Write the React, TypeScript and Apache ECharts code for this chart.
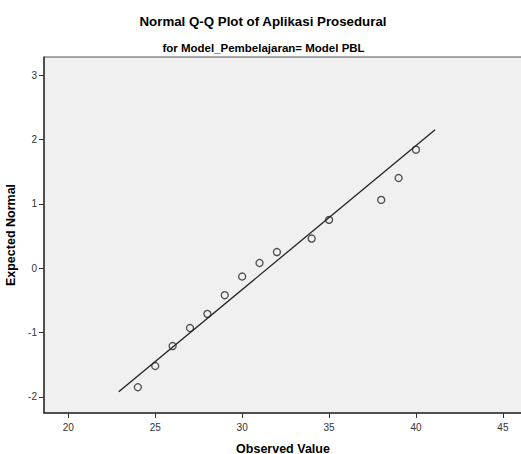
import React, { useEffect, useRef } from "react";
import * as echarts from "echarts";

const observed = [24, 25, 26, 27, 28, 29, 30, 31, 32, 34, 35, 38, 39, 40];
const expectedNormal = [-1.85, -1.52, -1.21, -0.93, -0.71, -0.42, -0.13, 0.08, 0.25, 0.46, 0.75, 1.06, 1.4, 1.84];
const refLineX = [22.9, 41.1];
const refLineY = [-1.92, 2.15];
const xTicks = [20, 25, 30, 35, 40, 45];
const yTicks = [-2, -1, 0, 1, 2, 3];
const titleText = "Normal Q-Q Plot of Aplikasi Prosedural";
const subtitleText = "for Model_Pembelajaran= Model PBL";

const FONT = "'Liberation Sans', Arial, sans-serif";

export default function App() {
  const ref = useRef<HTMLDivElement>(null);
  useEffect(() => {
    if (!ref.current) return;
    const chart = echarts.init(ref.current, undefined, { renderer: "svg" });
    chart.setOption({
      animation: false,
      backgroundColor: "#ffffff",
      graphic: [
        {
          type: "text",
          x: 263,
          y: 21,
          style: {
            text: titleText,
            fontFamily: FONT,
            fontSize: 13.3,
            fontWeight: "bold",
            fill: "#000",
            align: "center",
            verticalAlign: "middle",
          },
        },
        {
          type: "text",
          x: 263.5,
          y: 48,
          style: {
            text: subtitleText,
            fontFamily: FONT,
            fontSize: 11.5,
            fontWeight: "bold",
            fill: "#000",
            align: "center",
            verticalAlign: "middle",
          },
        },
      ],
      grid: {
        left: 44,
        top: 57,
        right: -1,
        bottom: 41,
        containLabel: false,
        outerBoundsMode: "none",
        show: true,
        backgroundColor: "#f0f0f0",
        borderColor: "#555",
        borderWidth: 1,
      },
      xAxis: {
        type: "value",
        min: 18.6,
        max: 46.1,
        name: "Observed Value",
        nameLocation: "middle",
        nameGap: 29,
        nameTextStyle: { fontFamily: FONT, fontSize: 12.5, fontWeight: "bold", color: "#000" },
        axisLine: { show: true, onZero: false, lineStyle: { color: "#333", width: 1.5 } },
        axisTick: { show: true, customValues: xTicks, length: 5, lineStyle: { color: "#333" } },
        axisLabel: { customValues: xTicks, fontFamily: FONT, fontSize: 10, color: "#333", margin: 9 },
        splitLine: { show: false },
      },
      yAxis: {
        type: "value",
        min: -2.25,
        max: 3.28,
        name: "Expected Normal",
        nameLocation: "middle",
        nameGap: 20,
        nameTextStyle: { fontFamily: FONT, fontSize: 12.5, fontWeight: "bold", color: "#000" },
        axisLine: { show: true, onZero: false, lineStyle: { color: "#333", width: 1.5 } },
        axisTick: { show: true, customValues: yTicks, length: 5, lineStyle: { color: "#333" } },
        axisLabel: { customValues: yTicks, fontFamily: FONT, fontSize: 10, color: "#333", margin: 7 },
        splitLine: { show: false },
      },
      series: [
        {
          type: "line",
          data: refLineX.map((x, i) => [x, refLineY[i]]),
          symbol: "none",
          lineStyle: { color: "#222", width: 1.3 },
          silent: true,
        },
        {
          type: "scatter",
          data: observed.map((x, i) => [x, expectedNormal[i]]),
          symbol: "circle",
          symbolSize: 7,
          itemStyle: { color: "transparent", borderColor: "#222", borderWidth: 1.3 },
        },
      ],
    });
    return () => chart.dispose();
  }, []);
  return (
    <div
      ref={ref}
      style={{ position: "absolute", left: 0, top: 0, width: 521, height: 454 }}
    />
  );
}
